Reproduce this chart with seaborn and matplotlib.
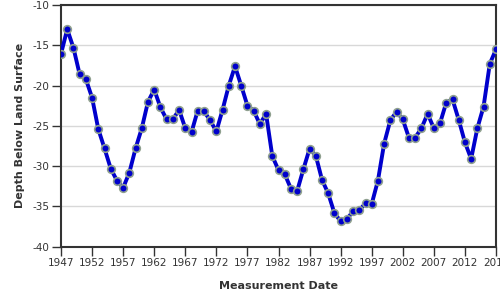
import matplotlib
matplotlib.use("Agg")
import matplotlib.pyplot as plt
import seaborn as sns
import pandas as pd

years = list(range(1947, 2018))
depths = [-16.07, -13.0, -15.3, -18.6, -19.2, -21.5, -25.4, -27.8, -30.3, -31.8,
          -32.7, -30.8, -27.8, -25.3, -22.0, -20.5, -22.7, -24.2, -24.2, -23.0,
          -25.3, -25.8, -23.1, -23.2, -24.3, -25.7, -23.0, -20.0, -17.6, -20.0,
          -22.5, -23.1, -24.8, -23.5, -28.75, -30.5, -31.0, -32.8, -33.1, -30.4,
          -27.85, -28.7, -31.7, -33.4, -35.85, -36.85, -36.6, -35.6, -35.5, -34.6,
          -34.7, -31.8, -27.2, -24.3, -23.25, -24.2, -26.5, -26.45, -25.3, -23.5,
          -25.3, -24.65, -22.1, -21.7, -24.25, -27.05, -29.1, -25.3, -22.6, -17.3,
          -15.5]
xticks = list(range(1947, 2018, 5))
yticks = [-10, -15, -20, -25, -30, -35, -40]

df = pd.DataFrame({"year": years, "depth": depths})

sns.set_theme(style="white")
plt.rcParams['font.family'] = ['DejaVu Sans']

fig = plt.figure(figsize=(5, 3), dpi=100)
ax = fig.add_axes([0.122, 0.178, 0.87, 0.805])

sns.lineplot(data=df, x="year", y="depth", ax=ax, color="#0000CC", linewidth=2.8,
             marker="o", markersize=5.5, markerfacecolor="#0000CC",
             markeredgecolor="#8FA08F", markeredgewidth=1.2, zorder=3)

ax.set_xlim(1947, 2017)
ax.set_ylim(-40, -10)
ax.set_xticks(xticks)
ax.set_xticklabels([str(t) for t in xticks])
ax.set_yticks(yticks)
ax.set_yticklabels([str(t) for t in yticks])
ax.yaxis.grid(True, color="#d8d8d8", linewidth=1)
ax.xaxis.grid(False)
for s in ax.spines.values():
    s.set_color("#333333")
    s.set_linewidth(1.5)
ax.tick_params(axis="both", which="major", direction="out", length=6.5, width=1,
               color="#333333", labelsize=7.5, labelcolor="#333333", pad=2,
               bottom=True, left=True)
ax.set_xlabel("Measurement Date", fontsize=8, fontweight="bold", color="#333333", labelpad=9)
ax.set_ylabel("Depth Below Land Surface", fontsize=8, fontweight="bold", color="#333333", labelpad=5)

fig.savefig("out.png", dpi=100)
